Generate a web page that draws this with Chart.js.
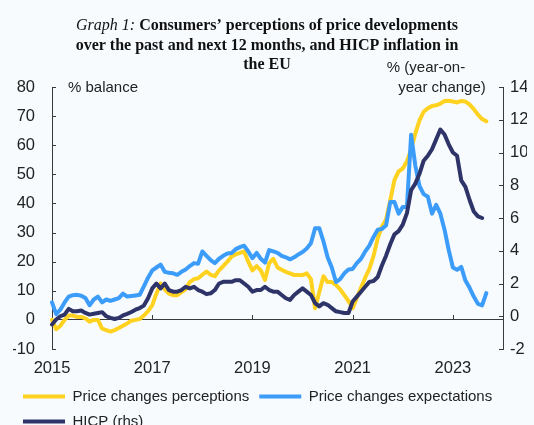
<!DOCTYPE html>
<html>
<head>
<meta charset="utf-8">
<script src="https://cdn.jsdelivr.net/npm/chart.js@4.4.1/dist/chart.umd.min.js"></script>
<style>
  html, body { margin: 0; padding: 0; background: #f7fbfe; overflow: hidden; }
  #wrap { width: 550px; height: 445px; }
</style>
</head>
<body>
<div id="wrap"><canvas id="hicpChart" width="550" height="445"></canvas></div>
<script>
// monthly, Jan 2015 - Sep 2023 (% balance)
const perceptions = [
  0, -3.2, -2, 0, 1.5, 1.5, 1, 1, 0.5, -0.6, 0, 0,
  -3, -3.5, -4, -3.5, -2.8, -2, -1.2, -0.3, 0, 0.3, 1.5, 3,
  5, 9, 12.5, 10.5, 9, 8.5, 8.5, 9.5, 10.5, 13, 14, 14.3,
  15.5, 16.6, 15.5, 15, 17, 18.5, 20, 21.8, 22.5, 23, 23.5, 20,
  17, 18.5, 17, 13.7, 19.5, 21, 18, 17.2, 16.5, 16, 15.4, 15.4,
  15.4, 16, 14, 4, 9.5, 15, 13, 13, 12, 10.5, 8.5, 6.5,
  4, 7.5, 11, 14.5, 17.5, 22, 28, 32, 34.5, 41, 48, 51,
  52, 54.5, 58.5, 64, 68.5, 71.5, 72.7, 73.5, 73.7, 74.3, 75.2, 75.3,
  75, 74.7, 75.2, 75, 74, 72.4, 70.5, 69, 68.2
];
const expectations = [
  6, 2, 3.5, 6, 8, 8.5, 8.6, 8.3, 7.5, 5, 7, 8,
  6, 7, 6.5, 7, 7.5, 9, 8, 8.2, 8.4, 8.6, 11.5, 14.5,
  17, 18, 19, 16.5, 16.2, 16, 15.5, 16.5, 17.3, 18.5, 19.5, 19.3,
  23.5, 22, 20.5, 19.5, 21, 22, 22.8, 23, 24.3, 25, 25.5, 23.5,
  21.2, 23, 21, 19.7, 24, 23.5, 23, 22, 21.5, 20.8, 21.5, 22.5,
  23.3, 24.5, 26.3, 31.5, 31.5, 27, 21.5, 18, 13, 14, 16, 17.3,
  17.5, 19.5, 21, 23.5, 25.5, 28.5, 31, 31.2, 32.5, 40.5, 40.5, 36.5,
  38.8, 38.8, 63.6, 53, 46, 43.2, 42.3, 36.5, 39.5, 36.5, 31, 24,
  18, 17.2, 18.2, 13.5, 11, 8, 5.5, 5, 9.2
];
// monthly, Jan 2015 - Aug 2023 (% year-on-year, right axis)
const hicp = [
  -0.5, -0.2, 0, 0.1, 0.45, 0.3, 0.3, 0.35, 0.2, 0.1, 0.15, 0.2,
  0.25, 0, -0.1, -0.17, -0.1, 0.05, 0.15, 0.26, 0.4, 0.5, 0.65, 1.1,
  1.7, 2, 1.7, 2, 1.6, 1.5, 1.5, 1.6, 1.8, 1.7, 1.8, 1.6,
  1.5, 1.35, 1.4, 1.6, 2, 2.1, 2.1, 2.1, 2.2, 2.2, 2, 1.8,
  1.5, 1.6, 1.6, 1.8, 1.6, 1.5, 1.5, 1.3, 1.1, 1, 1.3, 1.5,
  1.7, 1.5, 1.3, 0.8, 0.6, 0.8, 0.7, 0.5, 0.3, 0.25, 0.2, 0.2,
  0.9, 1.2, 1.5, 1.8, 2.1, 2.15, 2.4, 3.1, 3.7, 4.4, 5, 5.2,
  5.6, 6.3, 7.7, 8.1, 8.7, 9.5, 9.8, 10.2, 10.8, 11.4, 11.1, 10.5,
  10, 9.8, 8.3, 7.9, 7.1, 6.4, 6.1, 6
];

const months = [];
for (let y = 2015; y <= 2024; y++) {
  for (let mo = 1; mo <= 12; mo++) {
    if (y === 2024 && mo > 1) break;
    months.push(y + '-' + String(mo).padStart(2, '0'));
  }
}
const tickYears = ['2015', '2017', '2019', '2021', '2023'];

const titleLead = 'Graph 1:';
const titleLines = [
  'Consumers’ perceptions of price developments',
  'over the past and next 12 months, and HICP inflation in',
  'the EU'
];

const sans = '"Liberation Sans", Arial, sans-serif';
const serif = '"Liberation Serif", "Times New Roman", serif';
const axisColor = '#3a3a3a';

// inward tick marks, title and unit labels
const decorations = {
  id: 'decorations',
  beforeDatasetsDraw(chart) {
    const {ctx, chartArea, scales} = chart;
    ctx.save();
    ctx.strokeStyle = axisColor;
    ctx.lineWidth = 1;
    ctx.beginPath();
    scales.y.ticks.forEach(t => {
      const py = Math.round(scales.y.getPixelForValue(t.value)) + 0.5;
      ctx.moveTo(chartArea.left, py);
      ctx.lineTo(chartArea.left + 4, py);
    });
    scales.y1.ticks.forEach(t => {
      const py = Math.round(scales.y1.getPixelForValue(t.value)) + 0.5;
      ctx.moveTo(chartArea.right - 4, py);
      ctx.lineTo(chartArea.right, py);
    });
    const zero = Math.round(scales.y.getPixelForValue(0));
    scales.x.ticks.forEach(t => {
      if (!t.label) return;
      const px = Math.round(scales.x.getPixelForValue(t.value)) + 0.5;
      ctx.moveTo(px, zero);
      ctx.lineTo(px, zero - 5);
    });
    ctx.stroke();
    ctx.restore();
  },
  afterDraw(chart) {
    const ctx = chart.ctx;
    ctx.save();
    ctx.fillStyle = '#111';
    ctx.textBaseline = 'alphabetic';
    const cx = 267;
    ctx.font = 'italic 16px ' + serif;
    const lead = titleLead + ' ';
    const wLead = ctx.measureText(lead).width;
    ctx.font = 'bold 16px ' + serif;
    const wRest = ctx.measureText(titleLines[0]).width;
    let x = cx - (wLead + wRest) / 2;
    ctx.textAlign = 'left';
    ctx.font = 'italic 16px ' + serif;
    ctx.fillText(lead, x, 30);
    ctx.font = 'bold 16px ' + serif;
    ctx.fillText(titleLines[0], x + wLead, 30);
    ctx.textAlign = 'center';
    ctx.fillText(titleLines[1], cx, 50);
    ctx.fillText(titleLines[2], cx, 69);
    ctx.font = '15px ' + sans;
    ctx.fillStyle = '#222';
    ctx.textBaseline = 'middle';
    ctx.textAlign = 'left';
    ctx.fillText('% balance', 68, 88);
    ctx.textAlign = 'center';
    ctx.fillText('% (year-on-', 426, 68);
    ctx.fillText('year change)', 442, 88);
    ctx.restore();
  }
};

const ctx = document.getElementById('hicpChart').getContext('2d');

const lineStyle = {
  borderWidth: 4,
  pointRadius: 0,
  tension: 0,
  borderCapStyle: 'round',
  borderJoinStyle: 'round',
  fill: false
};

new Chart(ctx, {
  type: 'line',
  data: {
    labels: months,
    datasets: [
      Object.assign({
        label: 'Price changes perceptions',
        data: perceptions,
        borderColor: '#ffd21f',
        backgroundColor: '#ffd21f',
        yAxisID: 'y',
        order: 2
      }, lineStyle),
      Object.assign({
        label: 'Price changes expectations',
        data: expectations,
        borderColor: '#3c9cfa',
        backgroundColor: '#3c9cfa',
        yAxisID: 'y',
        order: 1
      }, lineStyle),
      Object.assign({
        label: 'HICP (rhs)',
        data: hicp,
        borderColor: '#2e3468',
        backgroundColor: '#2e3468',
        yAxisID: 'y1',
        order: 0
      }, lineStyle)
    ]
  },
  options: {
    responsive: false,
    animation: false,
    layout: {
      padding: { top: 87, left: 13, right: 23, bottom: 6 }
    },
    plugins: {
      title: { display: false },
      tooltip: { enabled: false },
      legend: {
        position: 'bottom',
        align: 'start',
        labels: {
          usePointStyle: true,
          pointStyle: 'line',
          pointStyleWidth: 42,
          padding: 10,
          color: '#222',
          font: { family: sans, size: 15 },
          sort: (a, b) => a.datasetIndex - b.datasetIndex
        }
      }
    },
    scales: {
      x: {
        type: 'category',
        grid: { display: false, drawTicks: false },
        border: { display: false },
        afterFit: s => { s.height = 30; },
        ticks: {
          autoSkip: false,
          maxRotation: 0,
          minRotation: 0,
          padding: 10,
          color: '#222',
          font: { family: sans, size: 16.5 },
          callback: function(value, index) {
            const lab = months[index];
            return lab.endsWith('-01') && tickYears.includes(lab.slice(0, 4)) ? lab.slice(0, 4) : '';
          }
        }
      },
      y: {
        position: 'left',
        min: -10,
        max: 80,
        afterFit: s => { s.width = 39; },
        grid: {
          drawTicks: false,
          color: function(c) { return c.tick && c.tick.value === 0 ? axisColor : 'rgba(0,0,0,0)'; }
        },
        border: { display: true, color: axisColor, width: 1 },
        ticks: {
          stepSize: 10,
          padding: 17,
          color: '#222',
          font: { family: sans, size: 16.5 }
        }
      },
      y1: {
        position: 'right',
        min: -2,
        max: 14,
        afterFit: s => { s.width = 24; },
        grid: { drawOnChartArea: false, drawTicks: false },
        border: { display: true, color: axisColor, width: 1 },
        ticks: {
          stepSize: 2,
          padding: 7,
          color: '#222',
          font: { family: sans, size: 16.5 }
        }
      }
    }
  },
  plugins: [decorations]
});
</script>
</body>
</html>
